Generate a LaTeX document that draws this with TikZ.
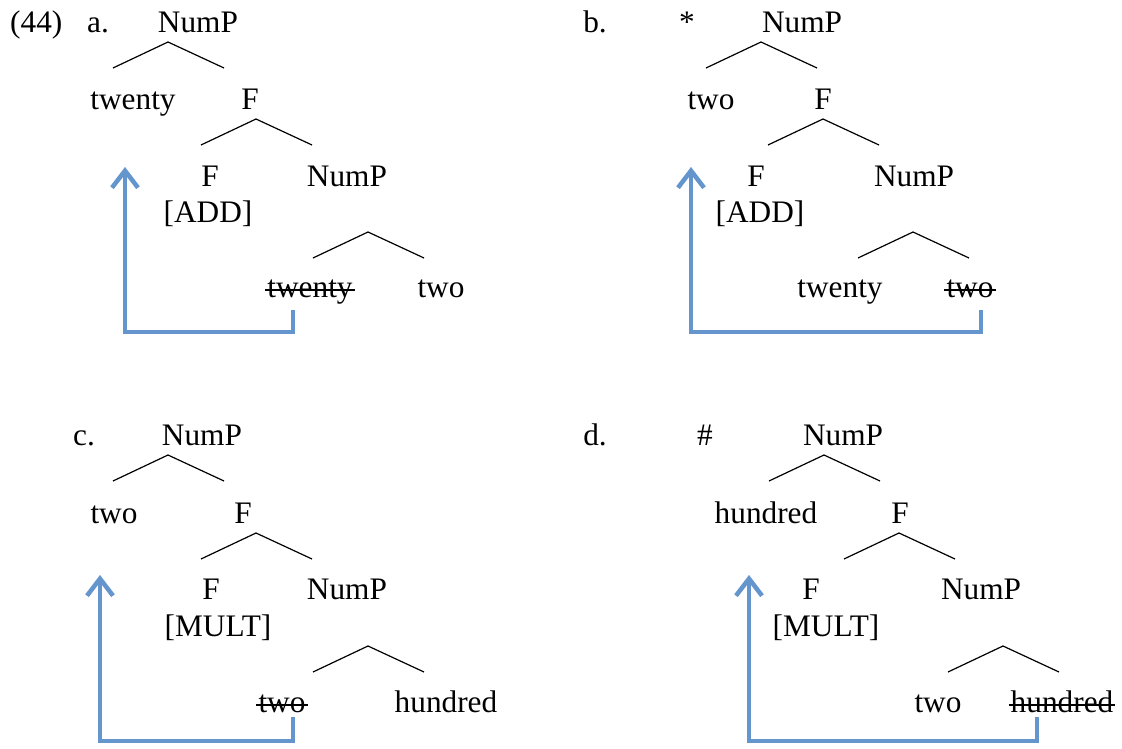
\documentclass[tikz,border=0pt]{standalone}
\usepackage{fontspec}
\setmainfont{Liberation Serif}
\usetikzlibrary{arrows.meta}
\definecolor{moveblue}{RGB}{100,150,205}
\tikzset{
	word/.style = {
		inner sep=0pt,
		anchor=base,
		font=\fontsize{31.3}{36}\selectfont
	},
	branch/.style = {
		draw=black,
		line width=1.2pt
	},
	strike/.style = {
		draw=black,
		line width=1.6pt,
		shorten <=-2pt,
		shorten >=-2pt
	},
	move/.style = {
		draw=moveblue,
		line width=4.5pt,
		-{Straight Barb[length=17pt,width=26pt]}
	},
}
\newcommand{\caret}[1]{\draw [branch] ([shift={(-55,26)}]#1) -- (#1) -- ([shift={(56,26)}]#1);}
\newcommand{\strikeout}[1]{\draw [strike] ([yshift=7pt]#1.base west) -- ([yshift=7pt]#1.base east);}

\begin{document}
\begin{tikzpicture}[x=1pt, y=-1pt]
\useasboundingbox (0,0) rectangle (1122,749);

% a.
\node [word, anchor=base west] (ex) at (10,33) {(44)};
\node [word] (a_lbl) at (98,33) {a.};
\node [word] (a_np1) at (198,33) {NumP};
\node [word] (a_spec) at (133,110) {twenty};
\node [word] (a_f1) at (250,110) {F};
\node [word] (a_f2) at (210,186) {F};
\node [word] (a_np2) at (347,186) {NumP};
\node [word] (a_feat) at (208,222) {[ADD]};
\node [word] (a_low) at (310,297) {twenty};
\node [word] (a_high) at (441,297) {two};
\coordinate (a_t1) at (168,42);
\coordinate (a_t2) at (256,119);
\coordinate (a_t3) at (368,232);
\caret{a_t1}
\caret{a_t2}
\caret{a_t3}
\strikeout{a_low}
\coordinate (a_from) at (293,310);
\coordinate (a_base) at (125,332);
\coordinate (a_to) at (125,167);
\draw [move] (a_from) |- (a_base) -- (a_to);

% b.
\node [word] (b_lbl) at (595,33) {b.};
\node [word] (b_mark) at (687,33) {*};
\node [word] (b_np1) at (802,33) {NumP};
\node [word] (b_spec) at (711,110) {two};
\node [word] (b_f1) at (823,110) {F};
\node [word] (b_f2) at (756,186) {F};
\node [word] (b_np2) at (914,186) {NumP};
\node [word] (b_feat) at (760,222) {[ADD]};
\node [word] (b_low) at (840,297) {twenty};
\node [word] (b_high) at (970,297) {two};
\coordinate (b_t1) at (761,42);
\coordinate (b_t2) at (823,119);
\coordinate (b_t3) at (913,232);
\caret{b_t1}
\caret{b_t2}
\caret{b_t3}
\strikeout{b_high}
\coordinate (b_from) at (981,310);
\coordinate (b_base) at (691,332);
\coordinate (b_to) at (691,167);
\draw [move] (b_from) |- (b_base) -- (b_to);

% c.
\node [word] (c_lbl) at (84,445) {c.};
\node [word] (c_np1) at (202,445) {NumP};
\node [word] (c_spec) at (114,523) {two};
\node [word] (c_f1) at (243,523) {F};
\node [word] (c_f2) at (211,599) {F};
\node [word] (c_np2) at (347,599) {NumP};
\node [word] (c_feat) at (218,636) {[MULT]};
\node [word] (c_low) at (282,712) {two};
\node [word] (c_high) at (446,712) {hundred};
\coordinate (c_t1) at (168,455);
\coordinate (c_t2) at (256,533);
\coordinate (c_t3) at (368,646);
\caret{c_t1}
\caret{c_t2}
\caret{c_t3}
\strikeout{c_low}
\coordinate (c_from) at (293,717);
\coordinate (c_base) at (100,741);
\coordinate (c_to) at (100,575);
\draw [move] (c_from) |- (c_base) -- (c_to);

% d.
\node [word] (d_lbl) at (595,445) {d.};
\node [word] (d_mark) at (705,445) {\#};
\node [word] (d_np1) at (843,445) {NumP};
\node [word] (d_spec) at (766,523) {hundred};
\node [word] (d_f1) at (900,523) {F};
\node [word] (d_f2) at (811,599) {F};
\node [word] (d_np2) at (981,599) {NumP};
\node [word] (d_feat) at (826,636) {[MULT]};
\node [word] (d_low) at (938,712) {two};
\node [word] (d_high) at (1062,712) {hundred};
\coordinate (d_t1) at (824,455);
\coordinate (d_t2) at (899,533);
\coordinate (d_t3) at (1003,646);
\caret{d_t1}
\caret{d_t2}
\caret{d_t3}
\strikeout{d_high}
\coordinate (d_from) at (1037,717);
\coordinate (d_base) at (749,741);
\coordinate (d_to) at (749,575);
\draw [move] (d_from) |- (d_base) -- (d_to);
\end{tikzpicture}
\end{document}
